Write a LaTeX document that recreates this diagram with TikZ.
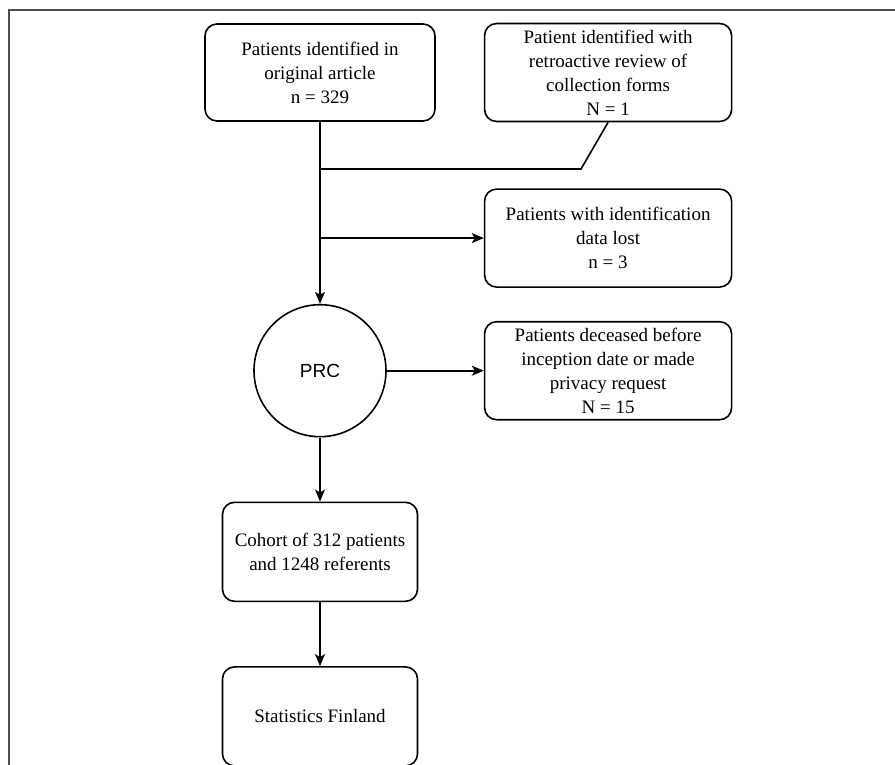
\documentclass[tikz,border=0pt]{standalone}
\usepackage{fontspec}
\setmainfont{Liberation Serif}
\setsansfont{Liberation Sans}
\usetikzlibrary{shapes,arrows.meta,positioning}
\tikzstyle{stage} = [rectangle, draw, fill=white, line width=1.6pt,
    align=center, rounded corners=12pt, minimum width=230pt, minimum height=97pt,
    inner sep=2pt, font=\fontsize{19}{24}\selectfont]
\tikzstyle{exclusion} = [stage, minimum width=247pt, minimum height=98pt]
\tikzstyle{outcome} = [stage, minimum width=195pt, minimum height=99pt]
\tikzstyle{checkpoint} = [circle, draw, fill=white, line width=1.6pt,
    minimum size=132pt, inner sep=0pt, font=\sffamily\fontsize{19}{22}\selectfont]

\begin{document}
\begin{tikzpicture}[x=1pt, y=1pt, line width=1.6pt,
    >={Stealth[length=12pt, width=10pt, inset=3pt]}]
    \useasboundingbox (0,0) rectangle (895,-765);
    \draw[black!70, line width=1.6pt] (895,-10) -- (9,-10) -- (9,-765);

    \node[stage] (origArticle) at (320,-72.5) {Patients identified in\\original article\\n = 329};
    \node[exclusion, right=48pt of origArticle] (retroReview) {Patient identified with\\retroactive review of\\collection forms\\N = 1};
    \node[exclusion, below=66pt of retroReview] (dataLost) {Patients with identification\\data lost\\n = 3};
    \node[exclusion, below=33pt of dataLost] (deceased) {Patients deceased before\\inception date or made\\privacy request\\N = 15};

    \node[checkpoint, left=97pt of deceased] (prc) {PRC};
    \node[outcome, below=64pt of prc] (cohort) {Cohort of 312 patients\\and 1248 referents};
    \node[outcome, below=64pt of cohort] (statFinland) {Statistics Finland};

    \coordinate (merge) at (581,-169);

    \path[draw,->] (origArticle) -- (prc);
    \path[draw] (retroReview.south) -- (merge) -- (merge -| prc);
    \path[draw,->] (dataLost.west -| prc) -- (dataLost.west);
    \path[draw,->] (prc) -- (deceased);
    \path[draw,->] (prc) -- (cohort);
    \path[draw,->] (cohort) -- (statFinland);
\end{tikzpicture}
\end{document}
